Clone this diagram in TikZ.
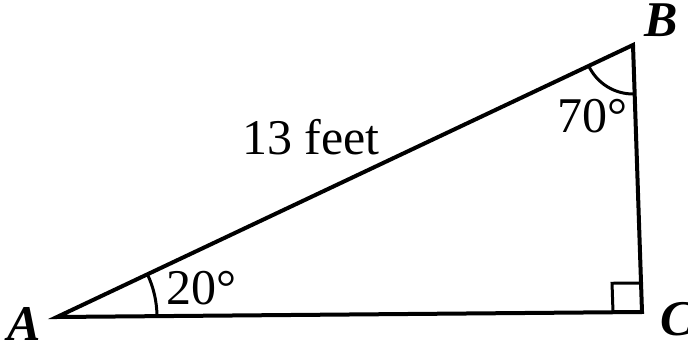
\documentclass[tikz,border=0pt]{standalone}
\usepackage{fontspec}
\setmainfont{Liberation Serif}
\usetikzlibrary{angles}
\begin{document}
\begin{tikzpicture}[x=1pt,y=1pt,
  side/.style={line width=4pt,line join=miter},
  anglemark/.style={line width=3pt},
  lbl/.style={inner sep=0pt,anchor=base,font=\fontsize{50}{60}\selectfont},
  vlbl/.style={inner sep=0pt,anchor=base,font=\fontsize{50}{60}\selectfont\bfseries\itshape}]
\useasboundingbox (0,0) rectangle (688,345);
\coordinate (A) at (57,28);
\coordinate (C) at (642,33);
\coordinate (B) at (633,300);
\draw[side] (A) -- (C) -- (B) -- cycle;
\pic[draw,anglemark,angle radius=100pt] {angle = C--A--B};
\pic[draw,anglemark,angle radius=49pt] {angle = A--B--C};
\pic[draw,anglemark,angle radius=29pt] {right angle = B--C--A};
\node[vlbl] (la) at (24,4) {A};
\node[vlbl] (lb) at (661,308) {B};
\node[vlbl] (lc) at (677,9) {C};
\node[lbl] (l13) at (311,190) {13 feet};
\node[lbl] (l70) at (592,212) {70°};
\node[lbl] (l20) at (201,40) {20°};
\end{tikzpicture}
\end{document}
